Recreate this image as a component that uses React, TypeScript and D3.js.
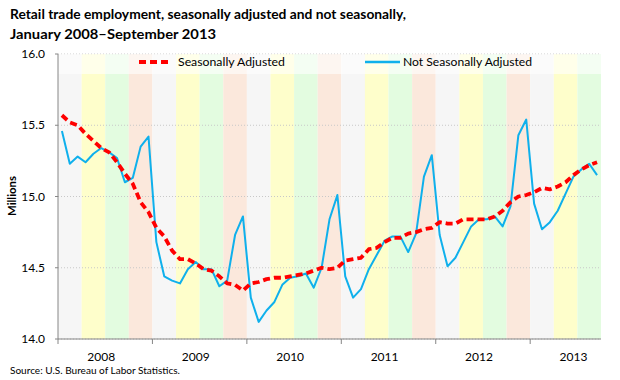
import React from "react";
import * as d3 from "d3";

const years = ["2008", "2009", "2010", "2011", "2012", "2013"];
const yTicks = [14.0, 14.5, 15.0, 15.5, 16.0];
const seasonColors = ["#f6f6f6", "#fefecb", "#e3fce0", "#fbe8dc"];

const saValues = [
  15.57, 15.52, 15.5, 15.44, 15.39, 15.34, 15.31, 15.24, 15.16, 15.09, 14.96, 14.89,
  14.78, 14.72, 14.62, 14.56, 14.56, 14.53, 14.49, 14.48, 14.44, 14.39, 14.38, 14.34,
  14.39, 14.4, 14.42, 14.43, 14.43, 14.44, 14.45, 14.46, 14.48, 14.5, 14.49, 14.5,
  14.55, 14.56, 14.57, 14.63, 14.64, 14.68, 14.71, 14.71, 14.74, 14.75, 14.77, 14.78,
  14.82, 14.81, 14.81, 14.84, 14.84, 14.84, 14.84, 14.86, 14.9, 14.96, 15.0, 15.01,
  15.03, 15.06, 15.05, 15.07, 15.1, 15.15, 15.19, 15.22, 15.24,
];

const nsaValues = [
  15.46, 15.23, 15.28, 15.24, 15.3, 15.34, 15.31, 15.27, 15.1, 15.13, 15.35, 15.42,
  14.68, 14.44, 14.41, 14.39, 14.49, 14.54, 14.49, 14.49, 14.37, 14.41, 14.73, 14.86,
  14.29, 14.12, 14.2, 14.26, 14.38, 14.43, 14.44, 14.46, 14.36, 14.5, 14.84, 15.01,
  14.44, 14.29, 14.35, 14.49, 14.59, 14.69, 14.72, 14.72, 14.61, 14.74, 15.14, 15.29,
  14.73, 14.51, 14.57, 14.68, 14.79, 14.84, 14.84, 14.86, 14.79, 14.93, 15.43, 15.54,
  14.95, 14.77, 14.82, 14.9, 15.02, 15.14, 15.19, 15.23, 15.15,
];

const W = 620;
const H = 380;
const left = 58;
const right = 601;
const top = 54;
const bottom = 339;
const font = "Lato, 'Liberation Sans', sans-serif";

export default function App() {
  const months = d3.range(saValues.length);
  const x = d3.scaleBand<number>().domain(months).range([left, right]).padding(0);
  const step = x.step();
  const cx = (i: number) => (x(i) as number) + step / 2;
  const y = d3.scaleLinear().domain([14, 16]).range([bottom, top]);

  const line = d3
    .line<number>()
    .x((_, i) => cx(i))
    .y((d) => y(d));

  const bands = d3.range(Math.ceil(months.length / 3)).map((q) => ({
    x0: x(q * 3) as number,
    x1: q * 3 + 3 >= months.length ? right : (x(q * 3 + 3) as number),
    color: seasonColors[q % 4],
  }));

  return (
    <svg
      width={W}
      height={H}
      style={{ position: "fixed", left: 0, top: 0, background: "#fff" }}
      fontFamily={font}
    >
      <rect x={0} y={0} width={W} height={H} fill="#fff" />
      {bands.map((b, i) => (
        <rect key={i} x={b.x0} y={top} width={b.x1 - b.x0} height={bottom - top} fill={b.color} />
      ))}
      {yTicks.map((t) => (
        <line
          key={t}
          x1={left}
          x2={right}
          y1={y(t)}
          y2={y(t)}
          stroke="#c8c8c8"
          strokeWidth={1}
          strokeDasharray="1,2"
        />
      ))}
      <path d={line(nsaValues) || ""} fill="none" stroke="#0fb0ec" strokeWidth={2} strokeLinejoin="round" />
      <path
        d={line(saValues) || ""}
        fill="none"
        stroke="#ff0000"
        strokeWidth={3.8}
        strokeDasharray="7,4"
        strokeLinejoin="round"
      />
      <rect x={left} y={top} width={right - left} height={20} fill="#fff" opacity={0.6} />
      <line x1={139} x2={172} y1={62} y2={62} stroke="#ff0000" strokeWidth={3.8} strokeDasharray="7,4" />
      <text x={178} y={66} fontSize={11.5} fill="#000" textLength={107} lengthAdjust="spacingAndGlyphs">
        Seasonally Adjusted
      </text>
      <line x1={365} x2={400} y1={62} y2={62} stroke="#0fb0ec" strokeWidth={2.5} />
      <text x={403} y={66} fontSize={11.5} fill="#000" textLength={129} lengthAdjust="spacingAndGlyphs">
        Not Seasonally Adjusted
      </text>
      <line x1={left} x2={left} y1={top} y2={bottom} stroke="#868686" strokeWidth={1} />
      <line x1={left} x2={right} y1={bottom} y2={bottom} stroke="#868686" strokeWidth={1} />
      {yTicks.map((t) => (
        <g key={t}>
          <line x1={left - 3} x2={left} y1={y(t)} y2={y(t)} stroke="#868686" />
          <text x={45} y={y(t) + 4} fontSize={12} textAnchor="end" fill="#000">
            {t.toFixed(1)}
          </text>
        </g>
      ))}
      {years.map((yr, k) => (
        <g key={yr}>
          <line x1={x(k * 12) as number} x2={x(k * 12) as number} y1={bottom} y2={bottom + 5} stroke="#868686" />
          <text x={cx(k * 12 + 5)} y={361} fontSize={12} textAnchor="middle" fill="#000">
            {yr}
          </text>
        </g>
      ))}
      <text
        transform="translate(16,196) rotate(-90)"
        fontSize={12}
        fontWeight="bold"
        textAnchor="middle"
        fill="#000"
        textLength={40}
        lengthAdjust="spacingAndGlyphs"
      >
        Millions
      </text>
      <text x={10} y={19} fontSize={14} fontWeight="bold" fill="#000" textLength={396} lengthAdjust="spacingAndGlyphs">
        Retail trade employment, seasonally adjusted and not seasonally,
      </text>
      <text x={10} y={39} fontSize={14} fontWeight="bold" fill="#000" textLength={206} lengthAdjust="spacingAndGlyphs">
        January 2008–September 2013
      </text>
      <text x={10} y={374} fontSize={10} fill="#000" textLength={170} lengthAdjust="spacingAndGlyphs">
        Source: U.S. Bureau of Labor Statistics.
      </text>
    </svg>
  );
}
